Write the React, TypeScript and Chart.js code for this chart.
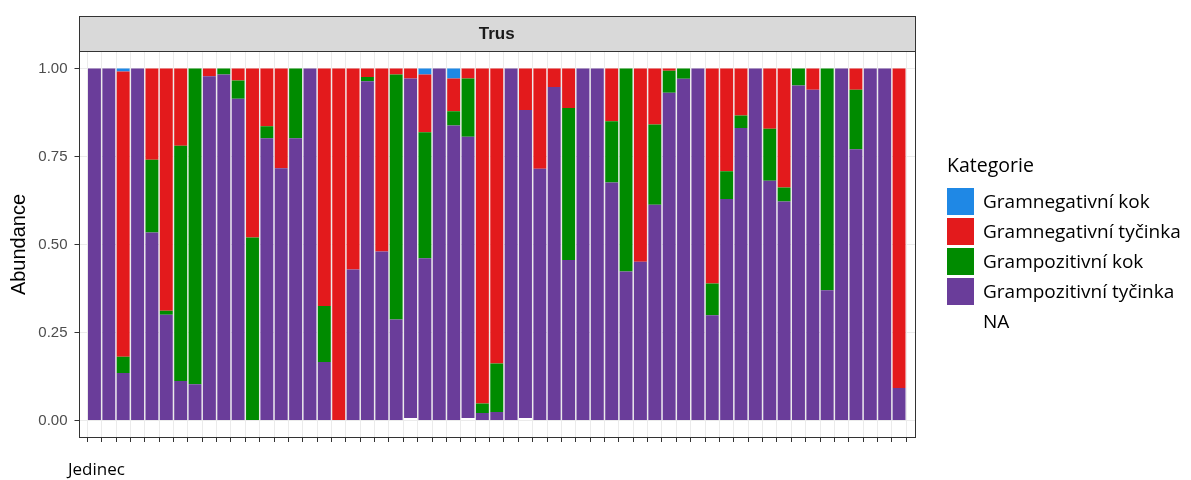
import { useEffect, useRef } from 'react';
import { Chart, registerables } from 'chart.js';

Chart.register(...registerables);

// ---- data ----
const panelTitle = 'Trus';
const xTitle = 'Jedinec';
const yTitle = 'Abundance';
const legendTitle = 'Kategorie';
const yTickValues = [0, 0.25, 0.5, 0.75, 1];

const seriesNames = [
  'Gramnegativní kok',
  'Gramnegativní tyčinka',
  'Grampozitivní kok',
  'Grampozitivní tyčinka',
  'NA',
];
const seriesColors = ['#1F88E5', '#E31A1C', '#008B00', '#6A3D9A', 'rgba(255,255,255,0)'];

// Grampozitivní tyčinka (purple)
const gpTycinka = [
  1, 1, 0.135, 1, 0.534, 0.3, 0.112, 0.103, 0.978, 0.983,
  0.914, 0, 0.802, 0.717, 0.802, 1, 0.166, 0, 0.429, 0.964,
  0.48, 0.287, 0.965, 0.461, 1, 0.838, 0.799, 0.021, 0.024, 1,
  0.875, 0.715, 0.948, 0.456, 1, 1, 0.676, 0.423, 0.451, 0.613,
  0.931, 0.971, 1, 0.299, 0.629, 0.831, 1, 0.681, 0.622, 0.952,
  0.94, 0.37, 1, 0.771, 1, 1, 0.092,
];
// Grampozitivní kok (green)
const gpKok = [
  0, 0, 0.046, 0, 0.207, 0.012, 0.669, 0.897, 0, 0.017,
  0.052, 0.52, 0.034, 0, 0.198, 0, 0.159, 0, 0, 0.012,
  0, 0.696, 0, 0.358, 0, 0.041, 0.166, 0.027, 0.138, 0,
  0, 0, 0, 0.432, 0, 0, 0.174, 0.577, 0, 0.228,
  0.063, 0.029, 0, 0.09, 0.079, 0.036, 0, 0.148, 0.04, 0.048,
  0, 0.63, 0, 0.169, 0, 0, 0,
];
// Gramnegativní tyčinka (red)
const gnTycinka = [
  0, 0, 0.811, 0, 0.259, 0.688, 0.219, 0, 0.022, 0,
  0.034, 0.48, 0.164, 0.283, 0, 0, 0.675, 1, 0.571, 0.024,
  0.52, 0.017, 0.028, 0.164, 0, 0.093, 0.028, 0.952, 0.838, 0,
  0.118, 0.285, 0.052, 0.112, 0, 0, 0.15, 0, 0.549, 0.159,
  0.006, 0, 0, 0.611, 0.292, 0.133, 0, 0.171, 0.338, 0,
  0.06, 0, 0, 0.06, 0, 0, 0.908,
];
// Gramnegativní kok (blue)
const gnKok = [
  0, 0, 0.008, 0, 0, 0, 0, 0, 0, 0,
  0, 0, 0, 0, 0, 0, 0, 0, 0, 0,
  0, 0, 0, 0.017, 0, 0.028, 0, 0, 0, 0,
  0, 0, 0, 0, 0, 0, 0, 0, 0, 0,
  0, 0, 0, 0, 0, 0, 0, 0, 0, 0,
  0, 0, 0, 0, 0, 0, 0,
];
// NA
const naValues = [
  0, 0, 0, 0, 0, 0, 0, 0, 0, 0,
  0, 0, 0, 0, 0, 0, 0, 0, 0, 0,
  0, 0, 0.007, 0, 0, 0, 0.007, 0, 0, 0,
  0.007, 0, 0, 0, 0, 0, 0, 0, 0, 0,
  0, 0, 0, 0, 0, 0, 0, 0, 0, 0,
  0, 0, 0, 0, 0, 0, 0,
];

const jedinci = gpTycinka.map((_, i) => i);

// ---- layout ----
const W = 1191;
const H = 480;
const AREA = { left: 78.5, right: 915, top: 51, bottom: 438 };
const STRIP_TOP = 16;

const SANS = '"Liberation Sans", Arial, sans-serif';
const LEG = '"Open Sans", "Noto Sans", sans-serif';

const decorPlugin = {
  id: 'decor',
  afterDatasetsDraw(chart: any) {
    const { ctx, chartArea: a } = chart;
    ctx.save();
    ctx.strokeStyle = '#333333';
    ctx.lineWidth = 1;
    ctx.strokeRect(Math.round(a.left) + 0.5, Math.round(a.top) + 0.5, Math.round(a.right - a.left) - 1, Math.round(a.bottom - a.top) - 1);
    ctx.restore();
  },
  afterDraw(chart: any) {
    const { ctx, chartArea: a } = chart;
    ctx.save();
    // facet strip
    const sl = Math.round(a.left) + 0.5;
    const sw = Math.round(a.right - a.left) - 1;
    ctx.fillStyle = '#D9D9D9';
    ctx.fillRect(sl, STRIP_TOP + 0.5, sw, Math.round(a.top) - STRIP_TOP);
    ctx.strokeStyle = '#333333';
    ctx.lineWidth = 1;
    ctx.strokeRect(sl, STRIP_TOP + 0.5, sw, Math.round(a.top) - STRIP_TOP);
    ctx.fillStyle = '#1A1A1A';
    ctx.font = 'bold 17px ' + SANS;
    ctx.textAlign = 'center';
    ctx.textBaseline = 'middle';
    ctx.fillText(panelTitle, (a.left + a.right) / 2, (STRIP_TOP + a.top) / 2 + 1);

    // x axis title
    ctx.fillStyle = '#000000';
    ctx.font = '17px ' + LEG;
    ctx.textAlign = 'left';
    ctx.fillText(xTitle, 68, 470);

    // legend
    ctx.font = '19.5px ' + LEG;
    ctx.fillText(legendTitle, 947, 166);
    const x0 = 947;
    const size = 27;
    seriesNames.forEach((name, k) => {
      const cy = 201.5 + k * 30;
      if (name !== 'NA') {
        ctx.fillStyle = seriesColors[k];
        ctx.fillRect(x0, cy - size / 2, size, size);
      }
      ctx.fillStyle = '#000000';
      ctx.font = '19px ' + LEG;
      ctx.fillText(name, 983, cy + 1);
    });
    ctx.restore();
  },
};

export default function App() {
  const ref = useRef<HTMLCanvasElement | null>(null);

  useEffect(() => {
    document.body.style.margin = '0';
    const canvas = ref.current;
    if (!canvas) return;

    const stackOrder = [
      { label: seriesNames[4], data: naValues, color: seriesColors[4] },
      { label: seriesNames[3], data: gpTycinka, color: seriesColors[3] },
      { label: seriesNames[2], data: gpKok, color: seriesColors[2] },
      { label: seriesNames[1], data: gnTycinka, color: seriesColors[1] },
      { label: seriesNames[0], data: gnKok, color: seriesColors[0] },
    ];

    const chart = new Chart(canvas, {
      type: 'bar',
      data: {
        datasets: stackOrder.map((s) => ({
          label: s.label,
          data: s.data.map((v, i) => ({ x: jedinci[i], y: v })),
          backgroundColor: s.color,
          borderWidth: 0,
          categoryPercentage: 1,
          barPercentage: 0.9,
        })),
      },
      options: {
        responsive: false,
        animation: false,
        devicePixelRatio: 1,
        layout: { padding: { left: 0, top: AREA.top, right: W - AREA.right, bottom: 0 } },
        plugins: {
          legend: { display: false },
          tooltip: { enabled: false },
        },
        scales: {
          x: {
            type: 'linear',
            stacked: true,
            min: -0.6,
            max: jedinci.length - 1 + 0.6,
            afterBuildTicks: (scale: any) => {
              scale.ticks = jedinci.map((v) => ({ value: v }));
            },
            afterFit: (scale: any) => {
              scale.height = H - AREA.bottom;
            },
            ticks: { callback: () => '', autoSkip: false, font: { size: 1 } },
            grid: { color: '#EBEBEB', lineWidth: 1, tickColor: '#333333', tickLength: 4 },
            border: { display: false },
          },
          y: {
            type: 'linear',
            stacked: true,
            min: -0.05,
            max: 1.05,
            afterBuildTicks: (scale: any) => {
              scale.ticks = yTickValues.map((v) => ({ value: v }));
            },
            afterFit: (scale: any) => {
              scale.width = AREA.left;
            },
            ticks: {
              callback: (v: any) => Number(v).toFixed(2),
              font: { family: SANS, size: 15 },
              color: '#4D4D4D',
              padding: 7,
            },
            grid: { color: '#EBEBEB', lineWidth: 1, tickColor: '#333333', tickLength: 4 },
            border: { display: false },
            title: {
              display: true,
              text: yTitle,
              font: { family: SANS, size: 20 },
              color: '#000000',
              padding: { top: 7, bottom: 0 },
            },
          },
        },
      },
      plugins: [decorPlugin],
    });

    return () => chart.destroy();
  }, []);

  return (
    <div style={{ width: W, height: H, background: '#ffffff' }}>
      <canvas ref={ref} width={W} height={H} style={{ display: 'block', width: W, height: H }} />
    </div>
  );
}
